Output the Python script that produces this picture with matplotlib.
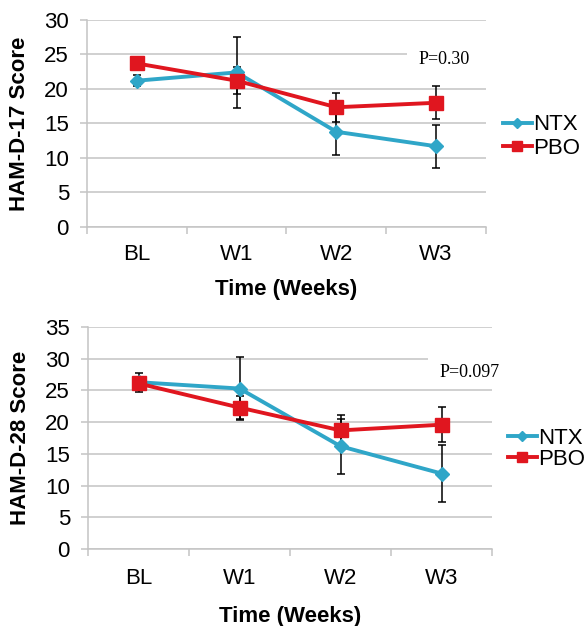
import matplotlib
matplotlib.use("Agg")
import matplotlib.pyplot as plt
from matplotlib.patches import Rectangle

plt.rcParams['font.family'] = ['Liberation Sans', 'DejaVu Sans']

# data
weeks = ["BL", "W1", "W2", "W3"]
series = ["NTX", "PBO"]

ham17_ntx = [21.2, 22.4, 13.8, 11.7]
ham17_ntx_err = [0.8, 5.2, 3.4, 3.1]
ham17_pbo = [23.7, 21.2, 17.35, 18.0]
ham17_pbo_err = [0.8, 2.0, 2.1, 2.4]

ham28_ntx = [26.3, 25.3, 16.2, 11.9]
ham28_ntx_err = [1.5, 5.0, 4.3, 4.5]
ham28_pbo = [26.1, 22.3, 18.7, 19.6]
ham28_pbo_err = [1.0, 1.8, 2.4, 2.8]

colors = {"NTX": "#2fa6c8", "PBO": "#e0161f"}
markers = {"NTX": "D", "PBO": "s"}
msize = {"NTX": 7, "PBO": 9.5}
grid_col = "#c4c4c4"


#
# One panel in the Excel-ish look
#
def panel(fig, rect, ntx, ntx_err, pbo, pbo_err, ymax, ylabel, ptext, pbox, ppos,
          leg_xy, leg_sp, xpad, xlpad):
    ax = fig.add_axes(rect)
    x = list(range(len(weeks)))
    vals = {"NTX": (ntx, ntx_err), "PBO": (pbo, pbo_err)}

    for name in series:
        y, e = vals[name]
        ax.errorbar(x, y, yerr=e, fmt='none', ecolor='black', elinewidth=1.1,
                    capsize=3, capthick=1.1, zorder=4)
    handles = []
    for name in series:
        y, e = vals[name]
        ln, = ax.plot(x, y, color=colors[name], lw=2.8, marker=markers[name],
                      markersize=msize[name], label=name, zorder=5)
        handles.append(ln)

    ax.set_xlim(-0.5, len(weeks) - 0.5)
    ax.set_ylim(0, ymax)
    ax.set_yticks(range(0, ymax + 1, 5))
    ax.set_xticks([i - 0.5 for i in range(len(weeks) + 1)])
    ax.set_xticklabels([])
    ax.set_xticks(x, minor=True)
    ax.set_xticklabels(weeks, minor=True)

    ax.yaxis.grid(True, color=grid_col, lw=1.1, zorder=0)
    ax.set_axisbelow(True)
    for s in ['top', 'right']:
        ax.spines[s].set_visible(False)
    for s in ['left', 'bottom']:
        ax.spines[s].set_color(grid_col)
        ax.spines[s].set_linewidth(1.1)

    ax.tick_params(axis='y', length=5, width=1.1, color=grid_col, labelsize=16, pad=8)
    ax.tick_params(axis='x', which='major', length=5, width=1.1, color=grid_col)
    ax.tick_params(axis='x', which='minor', length=0, labelsize=16, pad=xpad)

    ax.set_xlabel("Time (Weeks)", fontsize=16, fontweight='bold', labelpad=xlpad)
    ax.set_ylabel(ylabel, fontsize=16, fontweight='bold', labelpad=10)

    # white text box over the gridlines, as in the original
    ax.add_patch(Rectangle((pbox[0], pbox[1]), 1.05 - pbox[0], pbox[2], transform=ax.transAxes,
                           facecolor='white', edgecolor='none', zorder=1, clip_on=False))
    ax.text(ppos[0], ppos[1], ptext, transform=ax.transAxes, ha='left', va='center',
            fontsize=13, family=['Liberation Serif', 'DejaVu Serif'], zorder=6)

    fig.legend(handles=handles, labels=series, loc='center left',
               bbox_to_anchor=leg_xy, bbox_transform=fig.transFigure,
               frameon=False, fontsize=16, handlelength=1.3,
               handletextpad=0.05, labelspacing=leg_sp, borderpad=0,
               borderaxespad=0, markerscale=0.75)
    return ax


fig = plt.figure(figsize=(5.84, 6.26), dpi=100)

panel(fig, [0.149, 0.6374, 0.683, 0.3307],
      ham17_ntx, ham17_ntx_err, ham17_pbo, ham17_pbo_err, 30, "HAM-D-17 Score",
      "P=0.30", (0.802, 0.71, 0.22), (0.83, 0.807),
      (503 / 584, 0.782), 0.1, 12, 10)

panel(fig, [0.1507, 0.123, 0.6918, 0.3546],
      ham28_ntx, ham28_ntx_err, ham28_pbo, ham28_pbo_err, 35, "HAM-D-28 Score",
      "P=0.097", (0.842, 0.739, 0.18), (0.869, 0.797),
      (508 / 584, 0.283), 0.0, 14, 12)

fig.savefig("out.png", dpi=100)
